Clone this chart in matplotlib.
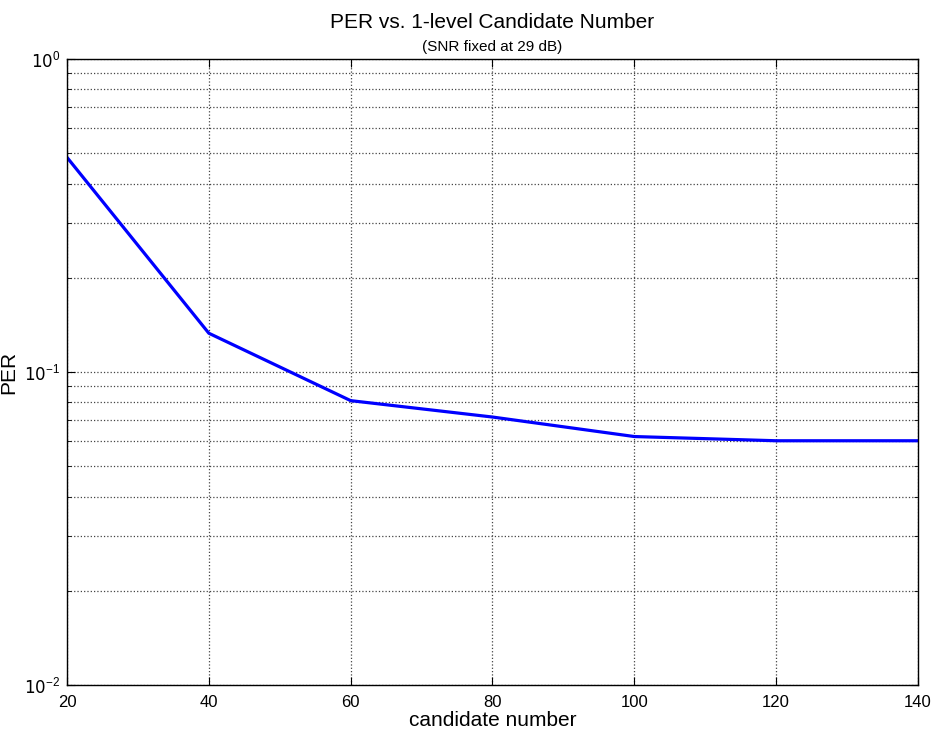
import matplotlib
matplotlib.use("Agg")
import matplotlib.pyplot as plt
from matplotlib.ticker import LogLocator, FixedLocator, FuncFormatter
import math

plt.rcParams['font.family'] = ['Liberation Sans', 'DejaVu Sans']

candidates = [20, 40, 60, 80, 100, 120, 140]
per = [0.485, 0.133, 0.081, 0.0718, 0.0622, 0.0603, 0.0603]
xticks = [20, 40, 60, 80, 100, 120, 140]

fig = plt.figure(figsize=(9.37, 7.42), dpi=100)
ax = fig.add_axes([67/937, 1 - 685/742, (918-67)/937, (685-59)/742])

ax.plot(candidates, per, color=(0, 0, 1), linewidth=2.3)
ax.set_yscale('log')
ax.set_xlim(20, 140)
ax.set_ylim(1e-2, 1e0)
ax.xaxis.set_major_locator(FixedLocator(xticks))
ax.yaxis.set_major_locator(LogLocator(base=10, numticks=10))
ax.yaxis.set_minor_locator(LogLocator(base=10, subs=range(2, 10), numticks=20))
ax.yaxis.set_minor_formatter(matplotlib.ticker.NullFormatter())
ax.yaxis.set_major_formatter(FuncFormatter(
    lambda v, p: r'$10^{\mathregular{%d}}$' % round(math.log10(v))))

ax.grid(True, which='major', linestyle=':', color='#444444', linewidth=0.9)
ax.grid(True, which='minor', axis='y', linestyle=':', color='#444444', linewidth=0.9)

ax.tick_params(which='both', direction='in', top=True, right=True, labelsize=12)
ax.tick_params(which='major', length=6)
ax.tick_params(which='minor', length=3)
ax.tick_params(axis='x', pad=7)
ax.tick_params(axis='y', pad=5)
for s in ax.spines.values():
    s.set_linewidth(1.0)

ax.set_xlabel('candidate number', fontsize=15, labelpad=1)
ax.set_ylabel('PER', fontsize=15, labelpad=4)
fig.text(0.5 * (67 + 918) / 937, 1 - 22/742, 'PER vs. 1-level Candidate Number',
         ha='center', va='center', fontsize=15)
fig.text(0.5 * (67 + 918) / 937, 1 - 47/742, '(SNR fixed at 29 dB)',
         ha='center', va='center', fontsize=11)

fig.savefig('out.png', dpi=100)
